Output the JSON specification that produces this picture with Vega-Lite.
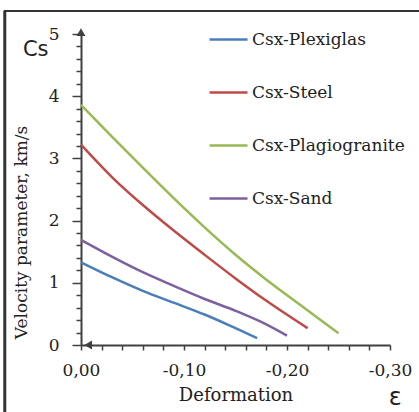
{
  "$schema": "https://vega.github.io/schema/vega-lite/v6.json",
  "width": 309,
  "height": 311,
  "autosize": {"type": "none"},
  "padding": {"left": 81, "top": 34, "right": 29, "bottom": 67},
  "background": "white",
  "config": {
    "view": {"stroke": null},
    "axis": {
      "labelFont": "DejaVu Serif",
      "labelFontSize": 17,
      "labelColor": "#222",
      "labelOverlap": false,
      "labelFlush": false,
      "titleFont": "DejaVu Serif",
      "titleFontWeight": "normal",
      "titleColor": "#222",
      "tickColor": "#404040",
      "tickWidth": 1.5,
      "domainColor": "#404040",
      "domainWidth": 2,
      "grid": false
    },
    "legend": {"labelFont": "DejaVu Serif", "labelFontSize": 17, "labelColor": "#222"}
  },
  "resolve": {"axis": {"x": "independent", "y": "independent"}},
  "datasets": {
    "curves": [
      {"series": "Csx-Plexiglas", "x": 0, "y": 1.33},
      {"series": "Csx-Plexiglas", "x": -0.03, "y": 1.09},
      {"series": "Csx-Plexiglas", "x": -0.06, "y": 0.87},
      {"series": "Csx-Plexiglas", "x": -0.09, "y": 0.68},
      {"series": "Csx-Plexiglas", "x": -0.12, "y": 0.49},
      {"series": "Csx-Plexiglas", "x": -0.15, "y": 0.27},
      {"series": "Csx-Plexiglas", "x": -0.171, "y": 0.11},
      {"series": "Csx-Steel", "x": 0, "y": 3.22},
      {"series": "Csx-Steel", "x": -0.03, "y": 2.7},
      {"series": "Csx-Steel", "x": -0.06, "y": 2.25},
      {"series": "Csx-Steel", "x": -0.09, "y": 1.84},
      {"series": "Csx-Steel", "x": -0.12, "y": 1.45},
      {"series": "Csx-Steel", "x": -0.15, "y": 1.07},
      {"series": "Csx-Steel", "x": -0.18, "y": 0.71},
      {"series": "Csx-Steel", "x": -0.22, "y": 0.27},
      {"series": "Csx-Plagiogranite", "x": 0, "y": 3.86},
      {"series": "Csx-Plagiogranite", "x": -0.03, "y": 3.35},
      {"series": "Csx-Plagiogranite", "x": -0.06, "y": 2.85},
      {"series": "Csx-Plagiogranite", "x": -0.09, "y": 2.36},
      {"series": "Csx-Plagiogranite", "x": -0.12, "y": 1.89},
      {"series": "Csx-Plagiogranite", "x": -0.15, "y": 1.45},
      {"series": "Csx-Plagiogranite", "x": -0.18, "y": 1.05},
      {"series": "Csx-Plagiogranite", "x": -0.21, "y": 0.68},
      {"series": "Csx-Plagiogranite", "x": -0.25, "y": 0.19},
      {"series": "Csx-Sand", "x": 0, "y": 1.69},
      {"series": "Csx-Sand", "x": -0.03, "y": 1.42},
      {"series": "Csx-Sand", "x": -0.06, "y": 1.17},
      {"series": "Csx-Sand", "x": -0.09, "y": 0.95},
      {"series": "Csx-Sand", "x": -0.12, "y": 0.74},
      {"series": "Csx-Sand", "x": -0.15, "y": 0.55},
      {"series": "Csx-Sand", "x": -0.175, "y": 0.37},
      {"series": "Csx-Sand", "x": -0.2, "y": 0.15}
    ]
  },
  "layer": [
    {
      "data": {"name": "curves"},
      "mark": {"type": "line", "strokeWidth": 2.5, "interpolate": "monotone"},
      "encoding": {
        "x": {
          "field": "x",
          "type": "quantitative",
          "scale": {"domain": [0, -0.3], "nice": false, "zero": false},
          "axis": {
            "orient": "bottom",
            "values": [0, -0.1, -0.2, -0.3],
            "labelExpr": "abs(datum.value) < 0.001 ? '0,00' : '-0,' + format(round(-datum.value*100), '02d')",
            "title": "Deformation",
            "titleFont": "DejaVu Serif",
            "titleFontSize": 18,
            "titlePadding": 8,
            "labelFont": "DejaVu Serif",
            "labelFontSize": 17,
            "labelPadding": 12,
            "labelOverlap": false,
            "tickSize": 5
          }
        },
        "y": {
          "field": "y",
          "type": "quantitative",
          "scale": {"domain": [0, 5], "nice": false, "zero": false},
          "axis": {
            "orient": "left",
            "values": [0, 1, 2, 3, 4, 5],
            "format": "d",
            "title": "Velocity parameter, km/s",
            "titleFont": "DejaVu Serif",
            "titleFontSize": 17,
            "titleX": -51,
            "titleY": 198,
            "labelFont": "DejaVu Serif",
            "labelFontSize": 17,
            "labelPadding": 13,
            "labelOverlap": false,
            "tickSize": 9
          }
        },
        "color": {
          "field": "series",
          "type": "nominal",
          "scale": {
            "domain": ["Csx-Plexiglas", "Csx-Steel", "Csx-Plagiogranite", "Csx-Sand"],
            "range": ["#4a7ebb", "#be4b48", "#98b954", "#7d60a0"]
          },
          "legend": {
            "orient": "none",
            "legendX": 127,
            "legendY": -15,
            "title": null,
            "padding": 0,
            "symbolType": "stroke",
            "symbolSize": 1444,
            "symbolStrokeWidth": 2.5,
            "labelFont": "DejaVu Serif",
            "labelOffset": 3,
            "rowPadding": 24,
            "labelLimit": 300
          }
        }
      }
    },
    {
      "data": {"values": [{}]},
      "mark": {"type": "point", "shape": "triangle-up", "filled": true, "size": 80, "color": "#404040", "opacity": 1},
      "encoding": {
        "x": {
          "datum": 0,
          "type": "quantitative",
          "axis": {
            "orient": "bottom",
            "values": [-0.02, -0.04, -0.06, -0.08, -0.12, -0.14, -0.16, -0.18, -0.22, -0.24, -0.26, -0.28],
            "labels": false,
            "domain": false,
            "title": null,
            "tickSize": 5
          }
        },
        "y": {
          "datum": 5.03,
          "type": "quantitative",
          "axis": {
            "orient": "left",
            "values": [0.2, 0.4, 0.6, 0.8, 1.2, 1.4, 1.6, 1.8, 2.2, 2.4, 2.6, 2.8, 3.2, 3.4, 3.6, 3.8, 4.2, 4.4, 4.6, 4.8],
            "labels": false,
            "domain": false,
            "title": null,
            "tickSize": 5
          }
        }
      }
    },
    {
      "data": {"values": [{}]},
      "mark": {"type": "point", "shape": "triangle-left", "filled": true, "size": 80, "color": "#404040", "opacity": 1},
      "encoding": {
        "x": {"datum": -0.007, "type": "quantitative", "axis": null},
        "y": {"datum": 0, "type": "quantitative", "axis": null}
      }
    },
    {
      "data": {"values": [{}]},
      "mark": {"type": "text", "text": "Cs", "font": "DejaVu Sans", "fontSize": 21, "color": "#222"},
      "encoding": {
        "x": {"datum": 0.044, "type": "quantitative", "axis": null},
        "y": {"datum": 4.74, "type": "quantitative", "axis": null}
      }
    },
    {
      "data": {"values": [{}]},
      "mark": {"type": "text", "text": "ε", "font": "DejaVu Sans", "fontSize": 24, "color": "#222"},
      "encoding": {
        "x": {"datum": -0.305, "type": "quantitative", "axis": null},
        "y": {"datum": -0.85, "type": "quantitative", "axis": null}
      }
    },
    {
      "data": {"values": [{}]},
      "mark": {"type": "rule", "color": "#333", "strokeWidth": 2},
      "encoding": {
        "x": {"datum": 0.075, "type": "quantitative", "axis": null},
        "x2": {"datum": -0.33},
        "y": {"datum": 5.37, "type": "quantitative", "axis": null}
      }
    },
    {
      "data": {"values": [{}]},
      "mark": {"type": "rule", "color": "#333", "strokeWidth": 3},
      "encoding": {
        "x": {"datum": 0.074, "type": "quantitative", "axis": null},
        "y": {"datum": 5.37, "type": "quantitative", "axis": null},
        "y2": {"datum": -1.1}
      }
    }
  ]
}
